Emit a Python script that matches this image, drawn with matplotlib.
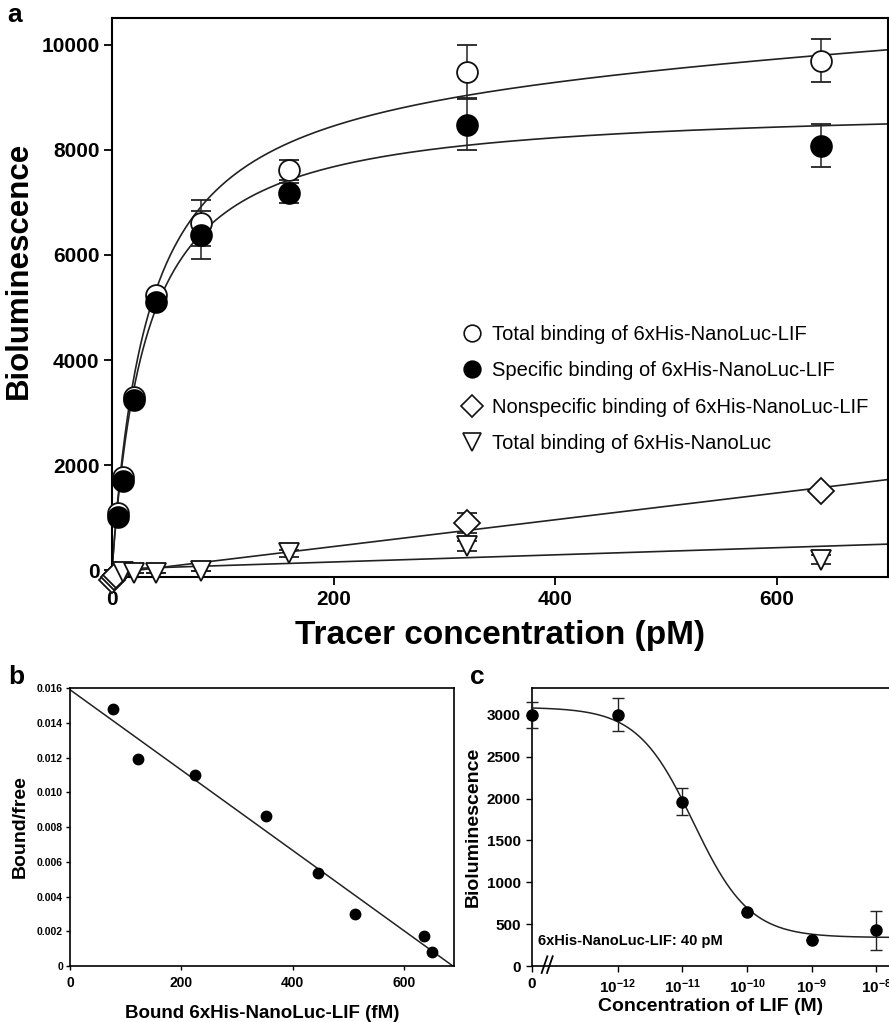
import numpy as np
import matplotlib
matplotlib.use("Agg")
import matplotlib.pyplot as plt
from matplotlib.lines import Line2D
from matplotlib.transforms import blended_transform_factory

plt.rcParams['font.family'] = ['Liberation Sans', 'DejaVu Sans']
plt.rcParams['mathtext.fontset'] = 'custom'
plt.rcParams['mathtext.rm'] = 'Liberation Sans:bold'
plt.rcParams['mathtext.bf'] = 'Liberation Sans:bold'
plt.rcParams['mathtext.it'] = 'Liberation Sans:bold'

# ---------------- Panel a data ----------------
total_x = [5, 10, 20, 40, 80, 160, 320, 640]
total_y = [1080, 1780, 3300, 5240, 6610, 7610, 9490, 9700]
total_err = [0, 0, 0, 0, 440, 190, 500, 410]

spec_x = [5, 10, 20, 40, 80, 160, 320, 640]
spec_y = [1010, 1700, 3230, 5100, 6380, 7180, 8480, 8080]
spec_err = [0, 0, 0, 0, 450, 190, 490, 410]

nonspec_x = [0, 2, 4, 320, 640]
nonspec_y = [-180, -130, -90, 900, 1510]
nonspec_err = [0, 0, 0, 190, 0]

nluc_x = [10, 20, 40, 80, 160, 320, 640]
nluc_y = [-40, -50, -45, -25, 320, 460, 200]
nluc_err = [0, 0, 0, 0, 60, 90, 80]

# fit parameters (one-site binding / linear)
spec_bmax, spec_kd = 8870, 31.0
tot_bmax, tot_kd, tot_ns = 9553, 32.0, 1.1
ns_slope, ns_icpt = 2.55, -60
nluc_slope, nluc_icpt = 0.68, 20

legend_labels = ["Total binding of 6xHis-NanoLuc-LIF",
                 "Specific binding of 6xHis-NanoLuc-LIF",
                 "Nonspecific binding of 6xHis-NanoLuc-LIF",
                 "Total binding of 6xHis-NanoLuc"]

# ---------------- Panel b data ----------------
b_bound = [77, 122, 224, 353, 445, 512, 636, 650]
b_ratio = [0.0148, 0.0119, 0.0110, 0.00865, 0.00537, 0.00300, 0.00175, 0.00080]
b_icpt, b_xint = 0.0159, 688

# ---------------- Panel c data ----------------
c_conc = [0, 1e-12, 1e-11, 1e-10, 1e-9, 1e-8]
c_lum = [3000, 3000, 1960, 645, 315, 425]
c_err = [155, 195, 160, 0, 0, 230]
c_top, c_bottom, c_logic50, c_hill = 3090, 340, -10.83, 1.0
c_zero_pos = 10 ** -13.33
c_tick_labels = ['0', r'$\mathbf{10^{-12}}$', r'$\mathbf{10^{-11}}$',
                 r'$\mathbf{10^{-10}}$', r'$\mathbf{10^{-9}}$', r'$\mathbf{10^{-8}}$']

W, H = 889, 1022
fig = plt.figure(figsize=(W / 100, H / 100), dpi=100)

def frac(l, t, r, b):
    return [l / W, 1 - b / H, (r - l) / W, (b - t) / H]

lw_sp = 1.5
# ================= Panel a =================
ax = fig.add_axes(frac(112, 18, 888, 577))
xs = np.linspace(0, 700, 600)
ax.plot(xs, tot_bmax * xs / (tot_kd + xs) + tot_ns * xs, color='#222', lw=1.2, zorder=2)
ax.plot(xs, spec_bmax * xs / (spec_kd + xs), color='#222', lw=1.2, zorder=2)
ax.plot(xs, ns_slope * xs + ns_icpt, color='#222', lw=1.2, zorder=2)
ax.plot(xs, nluc_slope * xs + nluc_icpt, color='#222', lw=1.2, zorder=2)

ek = dict(ecolor='#222', elinewidth=1.1, capsize=7, capthick=1.1, ls='none', zorder=3, clip_on=False)
ax.errorbar(nonspec_x, nonspec_y, yerr=nonspec_err, fmt='D', ms=13, mfc='white', mec='#111', mew=1.3, **ek)
ax.errorbar(nluc_x, nluc_y, yerr=nluc_err, fmt='v', ms=15, mfc='white', mec='#111', mew=1.3, **ek)
ax.errorbar(total_x, total_y, yerr=total_err, fmt='o', ms=15, mfc='white', mec='#111', mew=1.3, **ek)
ax.errorbar(spec_x, spec_y, yerr=spec_err, fmt='o', ms=15, mfc='black', mec='black', mew=1.3, **ek)

ax.set_xlim(0, 700)
ax.set_ylim(-130, 10510)
ax.set_xticks([0, 200, 400, 600])
ax.set_yticks([0, 2000, 4000, 6000, 8000, 10000])
ax.tick_params(direction='out', length=6, width=1.3, labelsize=15, pad=3)
for lab in ax.get_xticklabels() + ax.get_yticklabels():
    lab.set_fontweight('bold')
for s in ax.spines.values():
    s.set_linewidth(lw_sp)
ax.set_xlabel('Tracer concentration (pM)', fontsize=24, fontweight='bold', labelpad=8)
ax.set_ylabel('Bioluminescence', fontsize=22.5, fontweight='bold')
ax.yaxis.set_label_coords(-0.1005, 0.549)

handles = [
    Line2D([], [], marker='o', ls='none', ms=12, mfc='white', mec='#111', mew=1.2),
    Line2D([], [], marker='o', ls='none', ms=12, mfc='black', mec='black', mew=1.2),
    Line2D([], [], marker='D', ls='none', ms=11, mfc='white', mec='#111', mew=1.2),
    Line2D([], [], marker='v', ls='none', ms=13, mfc='white', mec='#111', mew=1.2),
]
ax.legend(handles, legend_labels, loc='upper left', bbox_to_anchor=(0.4377, 0.469),
          frameon=False, fontsize=14.5, handlelength=1.0, handletextpad=0.52,
          labelspacing=0.87, borderpad=0)
fig.text(7 / W, 1 - 22 / H, 'a', fontsize=19, fontweight='bold')

# ================= Panel b =================
axb = fig.add_axes(frac(70, 688, 454, 966))
xb = np.linspace(0, b_xint, 100)
axb.plot(xb, b_icpt - b_icpt / b_xint * xb, color='#222', lw=1.1)
axb.plot(b_bound, b_ratio, 'o', color='black', ms=7.5, clip_on=False)
axb.set_xlim(0, 690)
axb.set_ylim(0, 0.016)
axb.set_xticks([0, 200, 400, 600])
yt = [0, 0.002, 0.004, 0.006, 0.008, 0.010, 0.012, 0.014, 0.016]
axb.set_yticks(yt)
axb.set_yticklabels(['0'] + ['%.3f' % v for v in yt[1:]])
axb.tick_params(axis='y', direction='out', length=3, width=1.0, labelsize=7.5, pad=2)
axb.tick_params(axis='x', direction='out', length=3, width=1.0, labelsize=10, pad=4)
for lab in axb.get_xticklabels() + axb.get_yticklabels():
    lab.set_fontweight('bold')
for s in axb.spines.values():
    s.set_linewidth(1.2)
axb.set_xlabel('Bound 6xHis-NanoLuc-LIF (fM)', fontsize=13.5, fontweight='bold', labelpad=11)
axb.set_ylabel('Bound/free', fontsize=14, fontweight='bold', labelpad=6)
fig.text(8 / W, 1 - 684 / H, 'b', fontsize=19, fontweight='bold')

# ================= Panel c =================
axc = fig.add_axes(frac(532, 688, 889, 966))
axc.set_xscale('log')
xpos = [c_zero_pos if v == 0 else v for v in c_conc]
lx = np.linspace(np.log10(c_zero_pos), -7.8, 500)
axc.plot(10 ** lx, c_bottom + (c_top - c_bottom) / (1 + 10 ** ((lx - c_logic50) * c_hill)),
         color='#222', lw=1.1)
axc.errorbar(xpos, c_lum, yerr=c_err, fmt='o', color='black', ms=8, ecolor='#222',
             elinewidth=1.0, capsize=4.5, capthick=1.0, clip_on=False, zorder=3)
axc.set_xlim(c_zero_pos, 10 ** -7.8)
axc.set_ylim(0, 3320)
axc.set_xticks(xpos)
axc.set_xticklabels(c_tick_labels)
axc.xaxis.set_minor_locator(matplotlib.ticker.NullLocator())
axc.set_yticks([0, 500, 1000, 1500, 2000, 2500, 3000])
axc.tick_params(direction='out', length=4, width=1.0, labelsize=11, pad=4)
for lab in axc.get_xticklabels() + axc.get_yticklabels():
    lab.set_fontweight('bold')
for s in axc.spines.values():
    s.set_linewidth(1.2)
axc.spines['right'].set_visible(False)
axc.set_xlabel('Concentration of LIF (M)', fontsize=14, fontweight='bold', labelpad=2)
axc.set_ylabel('Bioluminescence', fontsize=14, fontweight='bold', labelpad=4)
axc.text(0.018, 0.075, '6xHis-NanoLuc-LIF: 40 pM', transform=axc.transAxes,
         fontsize=10.5, fontweight='bold')
# axis break marks
tb = blended_transform_factory(axc.transAxes, axc.transAxes)
for dx in (0.035, 0.05):
    axc.plot([dx - 0.008, dx + 0.008], [-0.025, 0.035], color='black', lw=1.3,
             transform=tb, clip_on=False)
fig.text(470 / W, 1 - 684 / H, 'c', fontsize=19, fontweight='bold')

fig.savefig('out.png', dpi=100)
